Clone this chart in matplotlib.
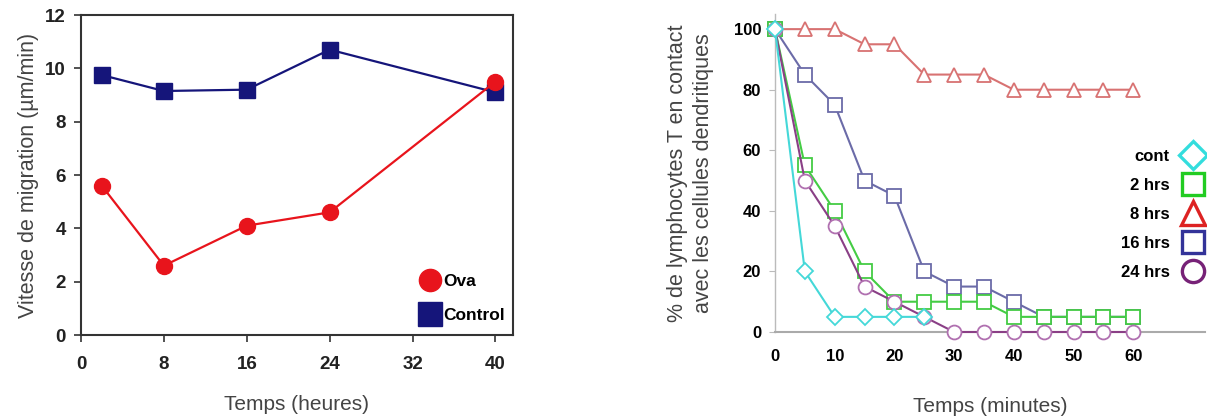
import matplotlib
matplotlib.use("Agg")
import matplotlib.pyplot as plt
from matplotlib.lines import Line2D

plt.rcParams['font.family'] = ['Liberation Sans', 'DejaVu Sans']

# ---- Left chart data ----
hours = [2, 8, 16, 24, 40]
ova = [5.6, 2.6, 4.1, 4.6, 9.5]
control = [9.75, 9.15, 9.2, 10.7, 9.1]
left_xticks = [0, 8, 16, 24, 32, 40]
left_yticks = [0, 2, 4, 6, 8, 10, 12]

# ---- Right chart data ----
minutes = [0, 5, 10, 15, 20, 25, 30, 35, 40, 45, 50, 55, 60]
cont = [100, 20, 5, 5, 5, 5]
hrs2 = [100, 55, 40, 20, 10, 10, 10, 10, 5, 5, 5, 5, 5]
hrs8 = [100, 100, 100, 95, 95, 85, 85, 85, 80, 80, 80, 80, 80]
hrs16 = [100, 85, 75, 50, 45, 20, 15, 15, 10, 5, 5, 5, 5]
hrs24 = [100, 50, 35, 15, 10, 5, 0, 0, 0, 0, 0, 0, 0]
right_labels = ['cont', '2 hrs', '8 hrs', '16 hrs', '24 hrs']
right_xticks = [0, 10, 20, 30, 40, 50, 60]
right_yticks = [0, 20, 40, 60, 80, 100]

fig = plt.figure(figsize=(12.07, 4.18), dpi=100)

# ================= Left =================
axL = fig.add_axes([81/1207, 1-335/418, (513-81)/1207, (335-15)/418])
red = '#e8141c'
navy = '#15157a'
axL.plot(hours, ova, color=red, lw=1.6, marker='o', ms=11.5, mfc=red, mec=red, zorder=3, clip_on=False)
axL.plot(hours, control, color=navy, lw=1.6, marker='s', ms=11.5, mfc=navy, mec=navy, zorder=2, clip_on=False)
axL.set_xlim(0, 41.7)
axL.set_ylim(0, 12)
axL.set_xticks(left_xticks)
axL.set_yticks(left_yticks)
for sp in axL.spines.values():
    sp.set_color('#333333')
    sp.set_linewidth(1.5)
axL.tick_params(axis='both', direction='out', length=5, width=1.2, color='#333333',
                labelsize=13.5, labelcolor='#222222')
for t in axL.get_xticklabels() + axL.get_yticklabels():
    t.set_fontweight('bold')
axL.tick_params(axis='x', pad=10)
axL.tick_params(axis='y', pad=6)
axL.set_xlabel('Temps (heures)', fontsize=15, color='#444444', labelpad=16)
axL.set_ylabel('Vitesse de migration (µm/min)', fontsize=15.5, color='#444444', labelpad=4)
hL = [Line2D([], [], ls='none', marker='o', ms=16, mfc=red, mec=red),
      Line2D([], [], ls='none', marker='s', ms=17, mfc=navy, mec=navy)]
legL = axL.legend(hL, ['Ova', 'Control'], loc='lower right', bbox_to_anchor=(1.01, 0.0),
                  frameon=False, handlelength=1.0, handletextpad=0.3, labelspacing=1.1,
                  borderaxespad=0.3, prop={'weight': 'bold', 'size': 12.5})

# ================= Right =================
axR = fig.add_axes([775/1207, 1-332/418, (1205-775)/1207, (332-14)/418])
c_cont, c_2, c_8, c_16, c_24 = '#44d8d8', '#44cc44', '#d87272', '#6b6ba8', '#8a3f86'
mk = dict(ms=10, mfc='white', mew=1.3, lw=1.5, clip_on=False)
axR.plot(minutes, hrs8, color=c_8, marker='^', mec=c_8, zorder=3, **mk)
axR.plot(minutes, hrs16, color=c_16, marker='s', mec=c_16, zorder=3, **mk)
axR.plot(minutes, hrs2, color=c_2, marker='s', mec=c_2, zorder=4, **mk)
axR.plot(minutes, hrs24, color=c_24, marker='o', mec='#b070b0', zorder=5, **mk)
axR.plot(minutes[:len(cont)], cont, color=c_cont, marker='D', mec=c_cont, zorder=6,
         ms=8, mfc='white', mew=1.3, lw=1.5, clip_on=False)
axR.set_xlim(0, 72)
axR.set_ylim(0, 105)
axR.set_xticks(right_xticks)
axR.set_yticks(right_yticks)
axR.spines['top'].set_visible(False)
axR.spines['right'].set_visible(False)
axR.spines['left'].set_color('#bbbbbb')
axR.spines['bottom'].set_color('#aaaaaa')
axR.spines['left'].set_linewidth(1.0)
axR.spines['bottom'].set_linewidth(1.5)
axR.tick_params(axis='y', direction='out', length=4, color='#bbbbbb', labelsize=12, pad=6)
axR.tick_params(axis='x', direction='out', length=0, labelsize=12, pad=12)
for t in axR.get_xticklabels() + axR.get_yticklabels():
    t.set_fontweight('bold')
axR.set_xlabel('Temps (minutes)', fontsize=15, color='#444444', labelpad=24)
axR.set_ylabel('% de lymphocytes T en contact\navec les cellules dendritiques',
               fontsize=15.5, color='#444444', labelpad=14, linespacing=1.3)
hR = [Line2D([], [], ls='none', marker='D', ms=14, mfc='white', mec='#33dddd', mew=2.4),
      Line2D([], [], ls='none', marker='s', ms=16, mfc='white', mec='#22cc22', mew=2.4),
      Line2D([], [], ls='none', marker='^', ms=17, mfc='white', mec='#dd2222', mew=2.4),
      Line2D([], [], ls='none', marker='s', ms=16, mfc='white', mec='#333399', mew=2.4),
      Line2D([], [], ls='none', marker='o', ms=16, mfc='white', mec='#772277', mew=2.4)]
legR = axR.legend(hR, right_labels, loc='center right', bbox_to_anchor=(1.015, 0.37),
                  frameon=False, markerfirst=False, handlelength=1.4, handletextpad=0.7,
                  labelspacing=0.85, borderaxespad=0.0, prop={'weight': 'bold', 'size': 12})

fig.savefig('out.png', dpi=100)
